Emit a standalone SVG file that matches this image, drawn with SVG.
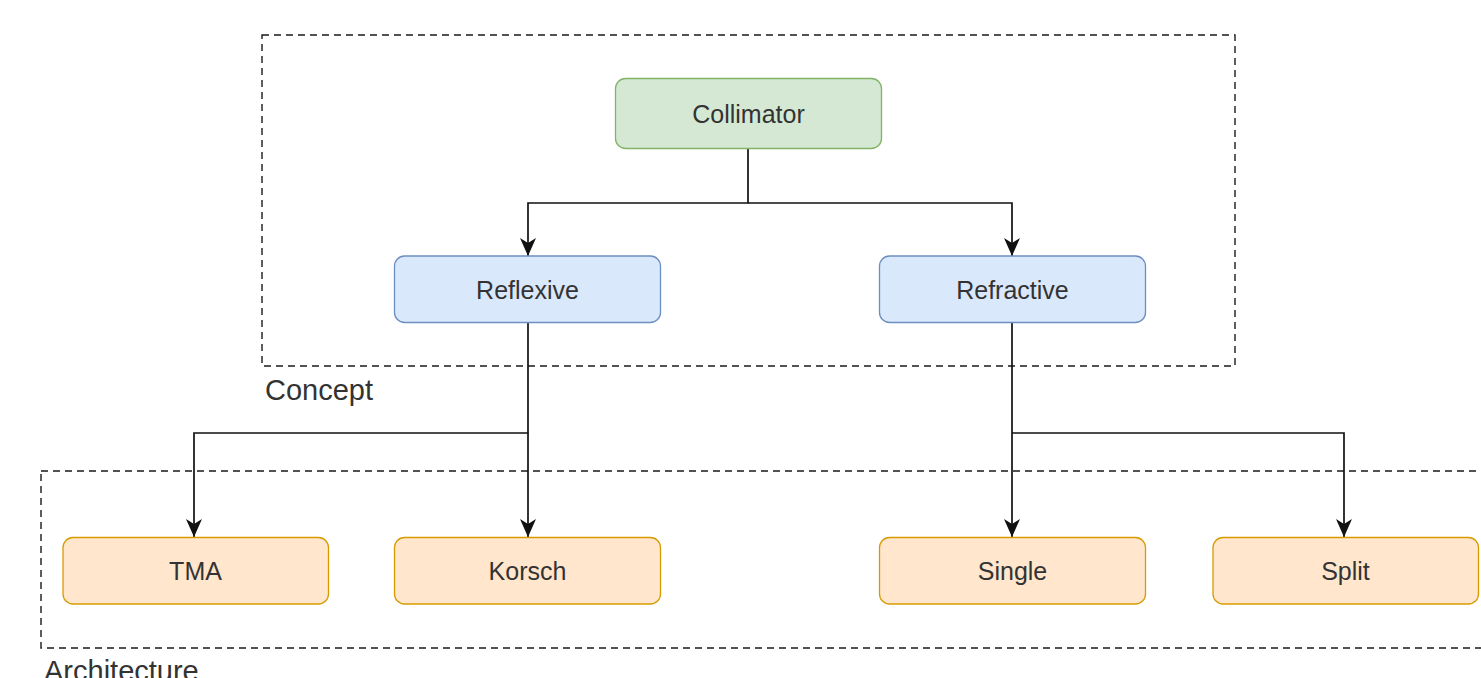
<svg xmlns="http://www.w3.org/2000/svg" width="1481" height="678" viewBox="0 0 1481 678">
  <style>
    .bg { fill: #ffffff; }
    .frame { fill: none; stroke: #1a1a1a; stroke-width: 1.4; stroke-dasharray: 7 5; }
    .frame-label { font-family: "Liberation Sans", Arial, sans-serif; font-size: 29px; fill: #333333; }
    .box { stroke-width: 1.3; }
    .green { fill: #d5e8d4; stroke: #82b366; }
    .blue { fill: #dae8fc; stroke: #6c8ebf; }
    .orange { fill: #ffe6cc; stroke: #d79b00; }
    .label { font-family: "Liberation Sans", Arial, sans-serif; font-size: 25px; fill: #333333; text-anchor: middle; }
    .edge { fill: none; stroke: #111111; stroke-width: 1.7; }
  </style>
  <defs>
    <marker id="arrow" viewBox="0 0 18 16" refX="18" refY="8" markerWidth="18" markerHeight="16" markerUnits="userSpaceOnUse" orient="auto">
      <path d="M18,8 L0,0 L5,8 L0,16 Z" fill="#111111"/>
    </marker>
  </defs>

  <rect class="bg" x="0" y="0" width="1481" height="678"/>

  <!-- grouping frames -->
  <g id="frame-concept">
    <rect class="frame" x="262" y="35" width="973" height="331"/>
    <text class="frame-label" x="265" y="400">Concept</text>
  </g>
  <g id="frame-architecture">
    <rect class="frame" x="41" y="471" width="1460" height="177"/>
    <text class="frame-label" x="44" y="681">Architecture</text>
  </g>

  <!-- connectors -->
  <g id="connectors">
    <path class="edge" d="M748,148 V203 H528 V256" marker-end="url(#arrow)"/>
    <path class="edge" d="M748,203 H1012 V256" marker-end="url(#arrow)"/>
    <path class="edge" d="M528,322 V433 H194 V537" marker-end="url(#arrow)"/>
    <path class="edge" d="M528,433 V537" marker-end="url(#arrow)"/>
    <path class="edge" d="M1012,322 V537" marker-end="url(#arrow)"/>
    <path class="edge" d="M1012,433 H1344 V537" marker-end="url(#arrow)"/>
  </g>

  <!-- nodes -->
  <g id="node-collimator">
    <rect class="box green" x="615.5" y="78.5" width="266" height="70" rx="10"/>
    <text class="label" x="748.5" y="123">Collimator</text>
  </g>
  <g id="node-reflexive">
    <rect class="box blue" x="394.5" y="256" width="266" height="66.5" rx="10"/>
    <text class="label" x="527.5" y="298.5">Reflexive</text>
  </g>
  <g id="node-refractive">
    <rect class="box blue" x="879.5" y="256" width="266" height="66.5" rx="10"/>
    <text class="label" x="1012.5" y="298.5">Refractive</text>
  </g>
  <g id="node-tma">
    <rect class="box orange" x="63" y="537.5" width="265.5" height="66.5" rx="10"/>
    <text class="label" x="195.5" y="580">TMA</text>
  </g>
  <g id="node-korsch">
    <rect class="box orange" x="394.5" y="537.5" width="266" height="66.5" rx="10"/>
    <text class="label" x="527.5" y="580">Korsch</text>
  </g>
  <g id="node-single">
    <rect class="box orange" x="879.5" y="537.5" width="266" height="66.5" rx="10"/>
    <text class="label" x="1012.5" y="580">Single</text>
  </g>
  <g id="node-split">
    <rect class="box orange" x="1213" y="537.5" width="265.5" height="66.5" rx="10"/>
    <text class="label" x="1345.5" y="580">Split</text>
  </g>
</svg>
